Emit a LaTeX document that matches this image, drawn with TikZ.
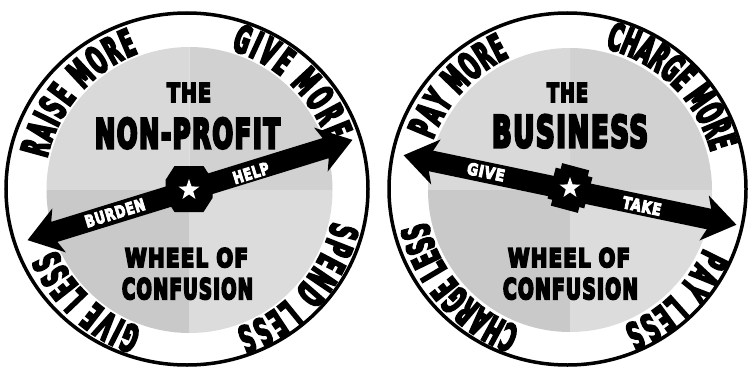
\documentclass[tikz,border=0pt]{standalone}
\usepackage{fontspec}
\usepackage{graphicx}
\usetikzlibrary{decorations.text,shapes.geometric,calc}
\newfontfamily\impf{DejaVu Sans Condensed Bold}[FakeBold=7.5,LetterSpace=6]
\newfontfamily\impa{DejaVu Sans Condensed Bold}[FakeBold=6,LetterSpace=5]
\newfontfamily\impr{DejaVu Sans Condensed Bold}[FakeStretch=0.55,FakeBold=5]
\newcommand\ringf{\impr\fontsize{38pt}{38pt}\selectfont}
\definecolor{qUL}{HTML}{D9D9D9}
\definecolor{qUR}{HTML}{D1D1D1}
\definecolor{qLL}{HTML}{C9C9C9}
\definecolor{qLR}{HTML}{DCDCDC}
\tikzset{
  rim/.style={draw=black, line width=3.5pt},
  ringtext/.style={decorate, decoration={text along path, text format delimiters={|}{|}, text align={fit to path}, text={|\ringf|#1}}},
  centertext/.style={inner sep=0pt, anchor=base},
  armlabel/.style={inner sep=0pt, text=white},
  hubstar/.style={star, star points=5, star point ratio=2.5, fill=white, inner sep=0pt, minimum size=22pt},
}
\newcommand\ringlabel[5]{%
  \path[ringtext={#5}] ($(#1)+(#3:#2)$) arc[start angle=#3, end angle=#4, radius=#2];}
\newcommand\graydisk[2]{%
  \fill[qUR] (#1) -- ++(0:#2) arc[start angle=0, end angle=90, radius=#2] -- cycle;
  \fill[qUL] (#1) -- ++(90:#2) arc[start angle=90, end angle=180, radius=#2] -- cycle;
  \fill[qLL] (#1) -- ++(180:#2) arc[start angle=180, end angle=270, radius=#2] -- cycle;
  \fill[qLR] (#1) -- ++(270:#2) arc[start angle=270, end angle=360, radius=#2] -- cycle;}
\newcommand\arrowshape{(170,0) -- (137,23) -- (142,10.5) -- (-142,10.5) -- (-137,23) -- (-170,0) -- (-137,-23) -- (-142,-10.5) -- (142,-10.5) -- (137,-23) -- cycle}
\begin{document}
\begin{tikzpicture}[x=1pt,y=1pt]
\useasboundingbox (0,0) rectangle (749,373);
\fill[white] (0,0) rectangle (749,373);

% ---------------- left wheel ----------------
\coordinate (g1) at (189.5,183);
\graydisk{g1}{143}
\draw[rim] (187,184) ellipse [x radius=181, y radius=176];

\ringlabel{g1}{146}{167.5}{110.5}{RAISE MORE}
\ringlabel{g1}{146}{73.5}{19.5}{GIVE MORE}
\ringlabel{g1}{146}{-12.5}{-71.5}{SPEND LESS}
\ringlabel{g1}{146}{251}{204}{GIVE LESS}

\node[centertext] (the1) at (189,271) {\resizebox{44pt}{19pt}{\impf THE}};
\node[centertext] (np) at (187.5,225) {\resizebox{185pt}{30pt}{\impf NON-PROFIT}};
\node[centertext] (wh1) at (186.5,106) {\resizebox{123pt}{19pt}{\impf WHEEL OF}};
\node[centertext] (cf1) at (187.5,74) {\resizebox{131pt}{21pt}{\impf CONFUSION}};

\begin{scope}[shift={(190,183)}, rotate=17.15]
  \fill[black] \arrowshape;
\end{scope}
\fill[black] (174.5,207) -- (203.5,207) -- (212.5,193) -- (212.5,175) -- (203.5,161) -- (174.5,161) -- (165.5,175) -- (165.5,193) -- cycle;
\node[hubstar] (s1) at (189,183) {};
\node[armlabel, rotate=17.15] (burden) at (115,160) {\resizebox{62pt}{12pt}{\impa BURDEN}};
\node[armlabel, rotate=17.15] (help) at (251,200) {\resizebox{37pt}{12pt}{\impa HELP}};

% ---------------- right wheel ----------------
\coordinate (g2) at (570,183);
\graydisk{g2}{142}
\draw[rim] (567.5,184) ellipse [x radius=178.5, y radius=176];

\ringlabel{g2}{146}{160}{114.5}{PAY MORE}
\ringlabel{g2}{146}{76}{15.5}{CHARGE MORE}
\ringlabel{g2}{146}{-23.5}{-68.5}{PAY LESS}
\ringlabel{g2}{146}{250}{192.5}{CHARGE LESS}

\node[centertext] (the2) at (567.5,271) {\resizebox{41pt}{19pt}{\impf THE}};
\node[centertext] (bus) at (570,226) {\resizebox{156pt}{32pt}{\impf BUSINESS}};
\node[centertext] (wh2) at (569,106) {\resizebox{122pt}{19pt}{\impf WHEEL OF}};
\node[centertext] (cf2) at (570.5,74) {\resizebox{135pt}{21pt}{\impf CONFUSION}};

\begin{scope}[shift={(570,183)}, rotate=-11.8]
  \fill[black] \arrowshape;
\end{scope}
\begin{scope}[shift={(570,185)}, rotate=-15]
  \fill[black] (-19,-16) rectangle (19,16);
  \fill[black] (-14,-22) rectangle (14,22);
\end{scope}
\node[hubstar] (s2) at (570,185) {};
\node[armlabel, rotate=-11.8] (give) at (486,201) {\resizebox{38pt}{12pt}{\impa GIVE}};
\node[armlabel, rotate=-11.8] (take) at (642,167) {\resizebox{39pt}{12pt}{\impa TAKE}};
\end{tikzpicture}
\end{document}
